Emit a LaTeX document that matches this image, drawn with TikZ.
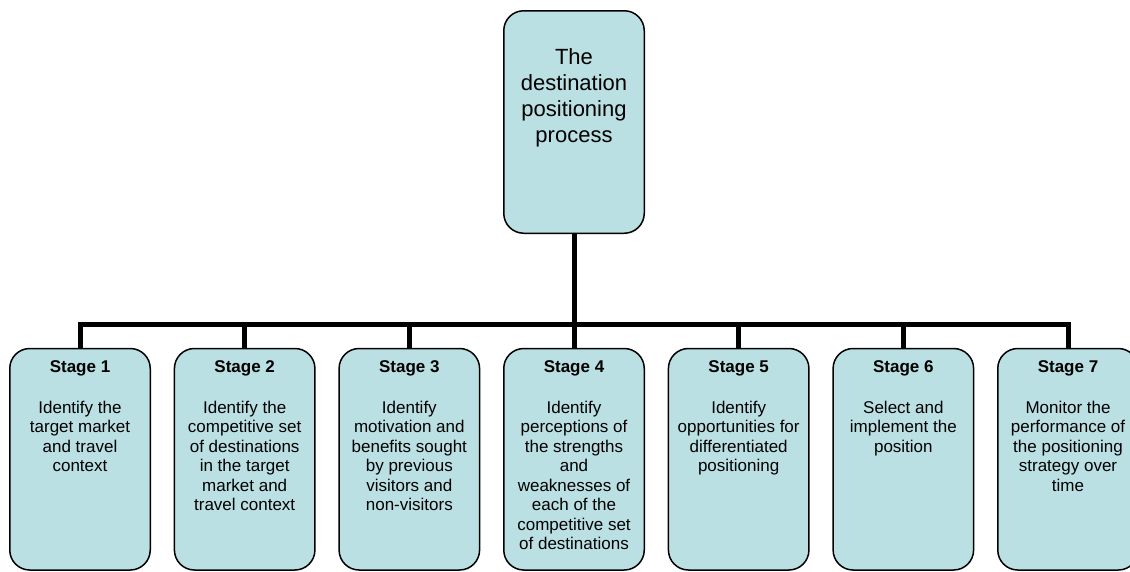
\documentclass[tikz,border=0pt]{standalone}
\usepackage{fontspec}
\setmainfont{Liberation Sans}
\definecolor{boxfill}{HTML}{BBE0E3}
\usepackage{tikz}
\usetikzlibrary{positioning}

\begin{document}
\begin{tikzpicture}[x=1pt, y=-1pt,
            node distance=22.67pt,
            box/.style={draw=black, line width=1.5pt, fill=boxfill,
                        rounded corners=20pt, minimum width=140.5pt, inner sep=0pt},
            stagebox/.style={box, minimum height=221.5pt},
            stagetext/.style={font=\fontsize{17}{19.5}\selectfont, align=center, inner sep=0pt},
            proctext/.style={font=\fontsize{22}{26}\selectfont, align=center, inner sep=0pt},
            link/.style={line width=5pt}
          ]
          \useasboundingbox (0,0) rectangle (1130,571);
          % top box
          \node[box, minimum height=222.5pt] (proc) at (574,122) {};
          \node[proctext, below=38pt of proc.north] (proct) {The\\destination\\positioning\\process};
          % stage boxes
          \node[stagebox] (s1) at (80,459.25) {};
          \node[stagebox, right=of s1] (s2) {};
          \node[stagebox, right=of s2] (s3) {};
          \node[stagebox, right=of s3] (s4) {};
          \node[stagebox, right=of s4] (s5) {};
          \node[stagebox, right=of s5] (s6) {};
          \node[stagebox, right=of s6] (s7) {};
          \node[stagetext, below=12.5pt of s1.north] (t1) {\textbf{Stage 1}\\[21.5pt]Identify the\\target market\\and travel\\context};
          \node[stagetext, below=12.5pt of s2.north] (t2) {\textbf{Stage 2}\\[21.5pt]Identify the\\competitive set\\of destinations\\in the target\\market and\\travel context};
          \node[stagetext, below=12.5pt of s3.north] (t3) {\textbf{Stage 3}\\[21.5pt]Identify\\motivation and\\benefits sought\\by previous\\visitors and\\non-visitors};
          \node[stagetext, below=12.5pt of s4.north] (t4) {\textbf{Stage 4}\\[21.5pt]Identify\\perceptions of\\the strengths\\and\\weaknesses of\\each of the\\competitive set\\of destinations};
          \node[stagetext, below=12.5pt of s5.north] (t5) {\textbf{Stage 5}\\[21.5pt]Identify\\opportunities for\\differentiated\\positioning};
          \node[stagetext, below=12.5pt of s6.north] (t6) {\textbf{Stage 6}\\[21.5pt]Select and\\implement the\\position};
          \node[stagetext, below=12.5pt of s7.north] (t7) {\textbf{Stage 7}\\[21.5pt]Monitor the\\performance of\\the positioning\\strategy over\\time};
          % connectors
          \coordinate (bus) at (574,324);
          \draw[link] (proc.south) -- (proc.south |- bus);
          \draw[link] (s1.north) |- (bus) -| (s7.north);
          \draw[link] (s2.north) -- (s2.north |- bus); \draw[link] (s3.north) -- (s3.north |- bus);
          \draw[link] (s4.north) -- (s4.north |- bus); \draw[link] (s5.north) -- (s5.north |- bus);
          \draw[link] (s6.north) -- (s6.north |- bus);
        \end{tikzpicture}
\end{document}
